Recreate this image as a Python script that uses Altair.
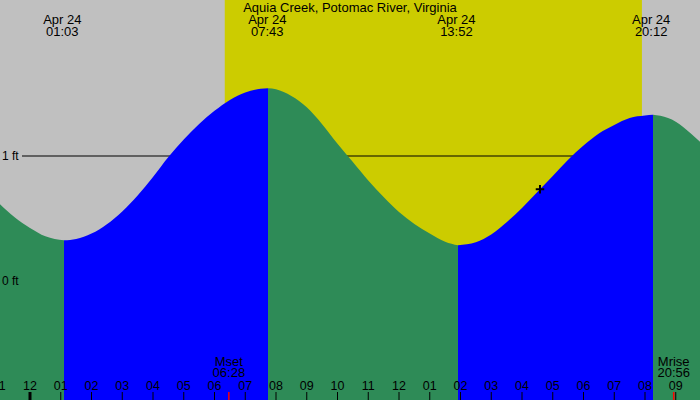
import altair as alt
import pandas as pd

# ---------------- data ----------------
title = "Aquia Creek, Potomac River, Virginia"

# tide curve (hours after midnight Apr 24, height in ft)
tide_hours = [-1.0, -0.5, 0.0, 0.5, 1.106, 1.5, 2.0, 2.5, 3.0, 3.5, 4.0, 4.5, 5.0, 5.5,
              6.0, 6.5, 7.0, 7.5, 7.74, 8.0, 8.5, 9.0, 9.5, 10.0, 10.5, 11.0, 11.5,
              12.0, 12.5, 13.0, 13.5, 13.919, 14.5, 15.0, 15.5, 16.0, 16.5, 17.0,
              17.5, 18.0, 18.5, 19.0, 19.5, 20.0, 20.26, 20.5, 21.0, 21.5, 22.0]
tide_feet = [0.62, 0.51, 0.425, 0.358, 0.326, 0.337, 0.380, 0.455, 0.557, 0.685, 0.833,
             0.992, 1.133, 1.256, 1.362, 1.449, 1.508, 1.538, 1.542, 1.534, 1.48, 1.39,
             1.255, 1.098, 0.952, 0.804, 0.672, 0.553, 0.457, 0.38, 0.315, 0.286, 0.31,
             0.372, 0.47, 0.585, 0.712, 0.841, 0.970, 1.084, 1.181, 1.249, 1.305, 1.325,
             1.330, 1.322, 1.275, 1.178, 1.065]

# tide turning points (segment boundaries) and direction of each segment
turn_hours = [-1.0, 1.106, 7.74, 13.919, 20.26, 22.0]
seg_dirs = ["fall", "rise", "fall", "rise", "fall"]

# high / low labels
extreme_dates = ["Apr 24", "Apr 24", "Apr 24", "Apr 24"]
extreme_times = ["01:03", "07:43", "13:52", "20:12"]

# daylight
sunrise = "06:20"
sunset = "19:54"

# moon events
moon_names = ["Mset", "Mrise"]
moon_times = ["06:28", "20:56"]

# hour ticks
tick_hours = list(range(-1, 22))
tick_labels = ["11", "12", "01", "02", "03", "04", "05", "06", "07", "08", "09", "10",
               "11", "12", "01", "02", "03", "04", "05", "06", "07", "08", "09"]

# reference levels
level_feet = [1.0, 0.0]
level_labels = ["1 ft", "0 ft"]

# current-time marker
now_hour = 16.585
now_feet = 0.734

# ---------------- helpers ----------------
def hm(s):
    h, m = s.split(":")
    return int(h) + int(m) / 60.0

FONT = "Liberation Sans"
FS = 13
xs = alt.Scale(domain=[-0.97561, 21.7886], nice=False, zero=False)
ys = alt.Scale(domain=[-0.952, 2.248], nice=False, zero=False)

rows = []
for i, d in enumerate(seg_dirs):
    lo, hi = turn_hours[i], turn_hours[i + 1]
    for h, f in zip(tide_hours, tide_feet):
        if lo - 1e-9 <= h <= hi + 1e-9:
            rows.append({"h": h, "ft": f, "seg": i, "dir": d})
tide = pd.DataFrame(rows)

day = pd.DataFrame({"a": [hm(sunrise)], "b": [hm(sunset)]})
day_layer = alt.Chart(day).mark_rect(color="#CCCC00").encode(
    x=alt.X("a:Q", scale=xs, axis=None), x2="b:Q",
    y=alt.value(0), y2=alt.value(400))

lvl = pd.DataFrame({"ft": level_feet, "lab": level_labels})
rule_layer = alt.Chart(lvl[lvl.ft == 1.0]).mark_rule(color="black", strokeWidth=1).encode(
    y=alt.Y("ft:Q", scale=ys, axis=None), x=alt.value(22), x2=alt.value(700))

area_layer = alt.Chart(tide).mark_area(interpolate="monotone", clip=True).encode(
    x=alt.X("h:Q", scale=xs, axis=None),
    y=alt.Y("ft:Q", scale=ys, axis=None, stack=None),
    y2=alt.value(400),
    color=alt.Color("dir:N", scale=alt.Scale(domain=["rise", "fall"],
                                              range=["#0000FF", "#2E8B57"]), legend=None),
    detail="seg:N")

lvl_text = alt.Chart(lvl).mark_text(font=FONT, fontSize=12, align="left",
                                    baseline="middle", color="black").encode(
    y=alt.Y("ft:Q", scale=ys, axis=None), x=alt.value(2), text="lab:N")

now_layer = alt.Chart(pd.DataFrame({"h": [now_hour], "ft": [now_feet]})).mark_point(
    shape="M-1,0H1M0,-1V1", filled=False, stroke="black", strokeWidth=2,
    size=72, opacity=1).encode(
    x=alt.X("h:Q", scale=xs, axis=None), y=alt.Y("ft:Q", scale=ys, axis=None))

title_layer = alt.Chart(pd.DataFrame({"t": [title]})).mark_text(
    font=FONT, fontSize=FS, align="center", baseline="middle", color="black").encode(
    x=alt.value(350), y=alt.value(7.5), text="t:N")

ext = pd.DataFrame({"h": [hm(t) for t in extreme_times], "d": extreme_dates,
                    "t": extreme_times})
ext_date = alt.Chart(ext).mark_text(font=FONT, fontSize=FS, align="center",
                                    baseline="middle", color="black").encode(
    x=alt.X("h:Q", scale=xs, axis=None), y=alt.value(20), text="d:N")
ext_time = alt.Chart(ext).mark_text(font=FONT, fontSize=FS, align="center",
                                    baseline="middle", color="black").encode(
    x=alt.X("h:Q", scale=xs, axis=None), y=alt.value(32), text="t:N")

ticks = pd.DataFrame({"h": tick_hours, "lab": tick_labels,
                      "w": [3 if h == 0 else 1 for h in tick_hours]})
tick_rules = alt.Chart(ticks).mark_rule(color="black").encode(
    x=alt.X("h:Q", scale=xs, axis=None), y=alt.value(392), y2=alt.value(400),
    strokeWidth=alt.StrokeWidth("w:Q", scale=None))
tick_text = alt.Chart(ticks).mark_text(font=FONT, fontSize=12.5, align="center",
                                       baseline="middle", color="black").encode(
    x=alt.X("h:Q", scale=xs, axis=None), y=alt.value(385.5), text="lab:N")

moon = pd.DataFrame({"h": [hm(t) for t in moon_times], "n": moon_names, "t": moon_times})
moon_rules = alt.Chart(moon).mark_rule(color="red", strokeWidth=1.5).encode(
    x=alt.X("h:Q", scale=xs, axis=None), y=alt.value(392), y2=alt.value(400))
moon_name = alt.Chart(moon).mark_text(font=FONT, fontSize=FS, align="center",
                                      baseline="middle", color="black").encode(
    x=alt.X("h:Q", scale=xs, axis=None), y=alt.value(362), text="n:N")
moon_time = alt.Chart(moon).mark_text(font=FONT, fontSize=FS, align="center",
                                      baseline="middle", color="black").encode(
    x=alt.X("h:Q", scale=xs, axis=None), y=alt.value(373), text="t:N")

chart = alt.layer(
    day_layer, rule_layer, area_layer, lvl_text, now_layer, title_layer,
    ext_date, ext_time, tick_rules, moon_rules, tick_text, moon_name, moon_time
).properties(
    width=700, height=400, padding=0,
    autosize=alt.AutoSizeParams(type="none"),
    background="#C0C0C0"
).configure_view(stroke=None)

chart.save("out.html", embed_options={"renderer": "svg", "actions": False})
